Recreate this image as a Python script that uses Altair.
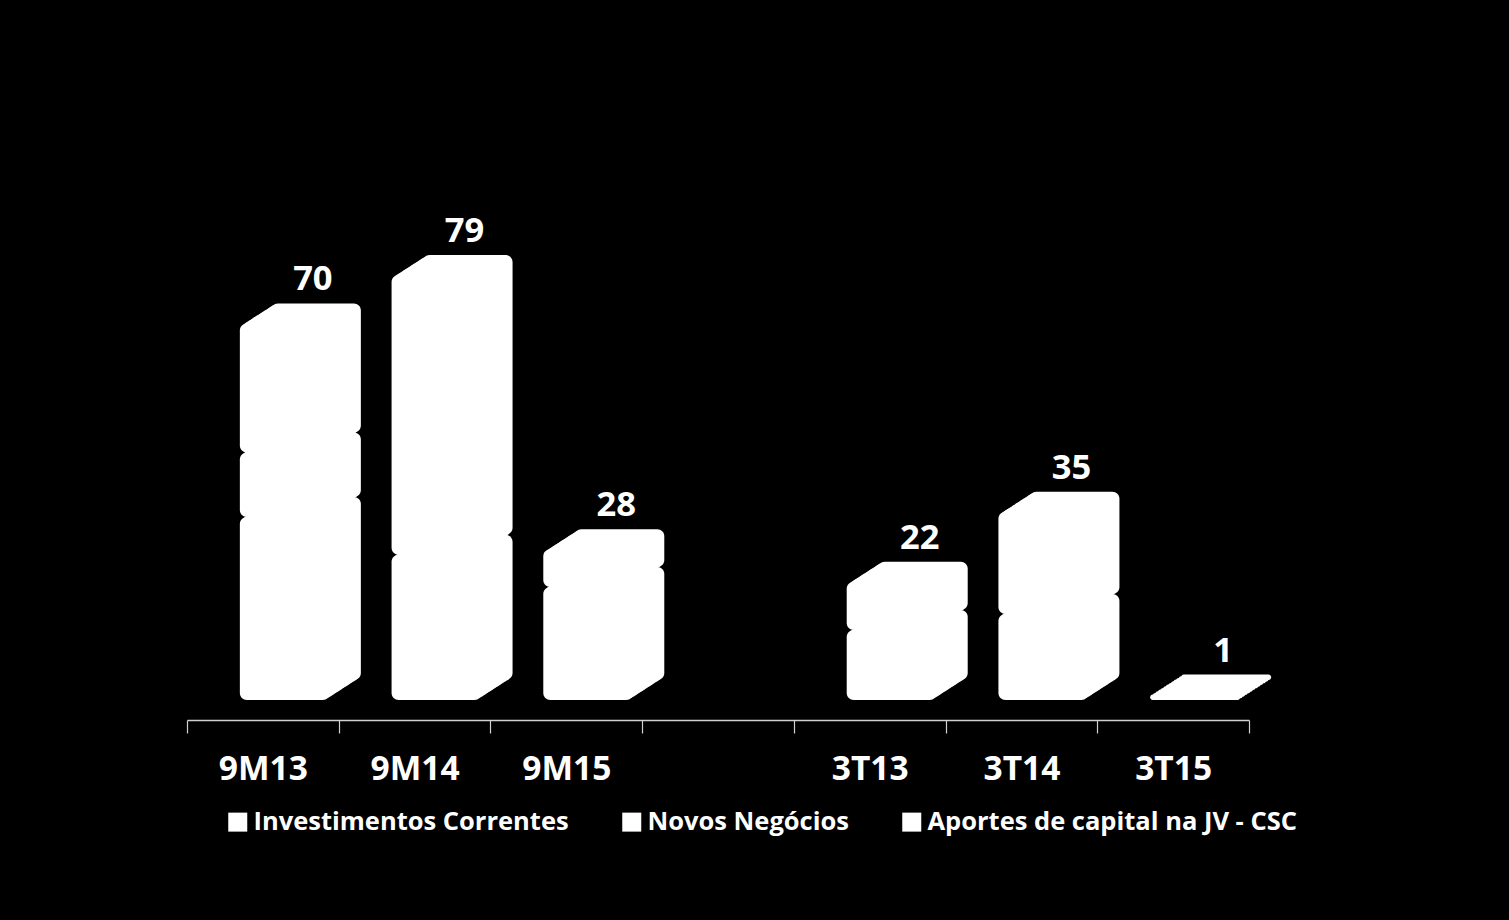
import altair as alt
import pandas as pd

# ---- data ----
categories = ["9M13", "9M14", "9M15", "", "3T13", "3T14", "3T15"]
series = ["Investimentos Correntes", "Novos Negócios", "Aportes de capital na JV - CSC"]
investimentos = [34, 27, 21, 0, 13, 16, 1]
novos = [12, 52, 7, 0, 9, 19, 0]
aportes = [24, 0, 0, 0, 0, 0, 0]
totals = [70, 79, 28, None, 22, 35, 1]

rows = []
for i, c in enumerate(categories):
    for j, vals in enumerate([investimentos, novos, aportes]):
        if vals[i]:
            rows.append({"cat": c, "series": series[j], "idx": j, "value": vals[i]})
df = pd.DataFrame(rows)
tot_df = pd.DataFrame([{"cat": c, "total": t} for c, t in zip(categories, totals) if t is not None])

FONT = "Open Sans"
Y_MAX = 100
PLOT_H = 538
x_scale = alt.Scale(domain=categories, paddingInner=0, paddingOuter=0)
x_axis = alt.Axis(
    title=None, labelAngle=0, offset=20, tickSize=13, tickBand="extent",
    domainColor="#d0d0d0", tickColor="#d0d0d0", domainWidth=1.5, tickWidth=1.2,
    labelColor="white", labelFont=FONT, labelFontSize=33.5, labelFontWeight="bold",
    labelPadding=20,
)
y_scale = alt.Scale(domain=[0, Y_MAX])
legend = alt.Legend(
    title=None, orient="none", legendX=38, legendY=647, direction="horizontal",
    symbolType="square", symbolSize=361, symbolStrokeWidth=0, symbolOpacity=1,
    labelFont=FONT, labelFontSize=25.5, labelFontWeight="bold", labelColor="white",
    labelOffset=3, columnPadding=50, labelLimit=600, padding=0,
)
color = alt.Color("series:N", scale=alt.Scale(domain=series, range=["white"] * 3), legend=legend)

# 3-D look: the box is built from copies of each stacked segment, shifted
# step by step towards the back (right and up) so their union forms a beveled block.
N = 12
DX = 31                      # depth, px to the right
DY = 20 * Y_MAX / PLOT_H     # depth, 20 px upward expressed in data units
base = alt.Chart(df).transform_stack(
    stack="value", groupby=["cat"], as_=["v0", "v1"], sort=[alt.SortField("idx", order="ascending")]
)
layers = []
for k in range(N, -1, -1):
    sh = DY * k / N
    layers.append(
        base.transform_calculate(y0=f"datum.v0 + {sh}", y1=f"datum.v1 + {sh}")
        .mark_bar(width=90, cornerRadius=7, xOffset=22 + DX * k / N, opacity=1)
        .encode(
            x=alt.X("cat:N", scale=x_scale, axis=x_axis, sort=categories),
            y=alt.Y("y1:Q", scale=y_scale, axis=None),
            y2="y0:Q",
            color=color,
        )
    )

labels = alt.Chart(tot_df).mark_text(
    dx=50, dy=-43, font=FONT, fontSize=34.5, fontWeight="bold", color="white", baseline="middle"
).encode(
    x=alt.X("cat:N", scale=x_scale, axis=x_axis, sort=categories),
    y=alt.Y("total:Q", scale=y_scale, axis=None),
    text=alt.Text("total:Q"),
)

chart = alt.layer(*layers, labels).properties(
    width=1062, height=PLOT_H,
    autosize=alt.AutoSizeParams(type="none"),
    padding={"left": 187, "top": 162, "right": 260, "bottom": 220},
    background="black",
).configure_view(stroke=None)

chart.save("out.html", embed_options={"renderer": "svg", "actions": False})
